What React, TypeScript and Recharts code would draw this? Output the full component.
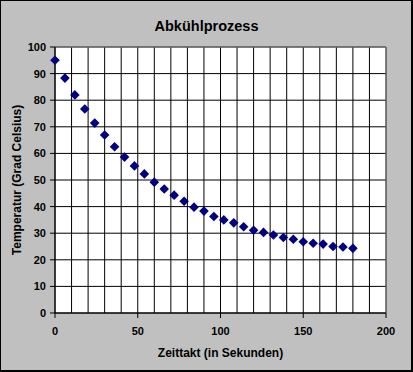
import React from "react";
import {
  ScatterChart,
  Scatter,
  XAxis,
  YAxis,
  CartesianGrid,
  ReferenceLine,
  Label,
} from "recharts";

const times = [
  0, 6, 12, 18, 24, 30, 36, 42, 48, 54, 60, 66, 72, 78, 84, 90, 96, 102, 108,
  114, 120, 126, 132, 138, 144, 150, 156, 162, 168, 174, 180,
];
const temps = [
  95.0, 88.3, 82.0, 76.7, 71.4, 66.9, 62.5, 58.6, 55.3, 52.3, 49.2, 46.6, 44.3,
  42.0, 39.8, 38.3, 36.3, 35.0, 33.9, 32.4, 31.1, 30.3, 29.3, 28.4, 27.7, 26.8,
  26.2, 25.9, 25.0, 24.8, 24.3,
];
const xLabelTicks = [0, 50, 100, 150, 200];
const xGridTicks = [
  0, 10, 20, 30, 40, 50, 60, 70, 80, 90, 100, 110, 120, 130, 140, 150, 160,
  170, 180, 190, 200,
];
const yTicks = [0, 10, 20, 30, 40, 50, 60, 70, 80, 90, 100];

const title = "Abkühlprozess";
const xTitle = "Zeittakt (in Sekunden)";
const yTitle = "Temperatur (Grad Celsius)";

const data = times.map((t, i) => ({ t, temp: temps[i] }));

const FONT = "'Liberation Sans', Arial, sans-serif";
const tickStyle = {
  fill: "#000",
  fontSize: 11,
  fontWeight: "bold" as const,
  fontFamily: FONT,
};

const X_TICK_SIZE = 5;
const X_TICK_MARGIN = 9;

const XTick = (props: any) => {
  const { x, y, payload } = props;
  const v = payload?.value;
  if (!xLabelTicks.includes(v)) return <g />;
  return (
    <g>
      <line
        x1={x}
        x2={x}
        y1={y - X_TICK_MARGIN - X_TICK_SIZE}
        y2={y - X_TICK_MARGIN}
        stroke="#000"
      />
      <text x={x} y={y} dy="0.71em" textAnchor="middle" {...tickStyle}>
        {v}
      </text>
    </g>
  );
};

const Diamond = (props: any) => {
  const { cx, cy } = props;
  const h = 4.8;
  return (
    <path
      d={`M${cx},${cy - h}L${cx + h},${cy}L${cx},${cy + h}L${cx - h},${cy}Z`}
      fill="#000080"
    />
  );
};

export default function App() {
  return (
    <div
      style={{
        position: "absolute",
        left: 0,
        top: 0,
        width: 413,
        height: 372,
        background: "#C0C0C0",
        overflow: "hidden",
      }}
    >
      <ScatterChart
        width={413}
        height={372}
        margin={{ top: 47, right: 27, bottom: 0, left: 0 }}
      >
        <CartesianGrid
          stroke="#000"
          strokeOpacity={1}
          fill="#ffffff"
          fillOpacity={1}
        />
        <XAxis
          type="number"
          dataKey="t"
          domain={[0, 200]}
          ticks={xGridTicks}
          interval={0}
          height={59}
          axisLine={{ stroke: "#000" }}
          tickLine={false}
          tickSize={X_TICK_SIZE}
          tickMargin={X_TICK_MARGIN}
          tick={XTick}
        >
          <Label
            value={xTitle}
            position="insideBottom"
            offset={15}
            style={{
              fill: "#000",
              fontSize: 12,
              fontWeight: "bold",
              fontFamily: FONT,
            }}
          />
        </XAxis>
        <YAxis
          type="number"
          dataKey="temp"
          domain={[0, 100]}
          ticks={yTicks}
          interval={0}
          width={55}
          axisLine={{ stroke: "#000" }}
          tickLine={{ stroke: "#000" }}
          tickSize={5}
          tickMargin={4}
          tick={tickStyle}
        >
          <Label
            value={yTitle}
            angle={-90}
            position="insideLeft"
            offset={17}
            style={{
              fill: "#000",
              fontSize: 12,
              fontWeight: "bold",
              fontFamily: FONT,
              textAnchor: "middle",
            }}
          />
        </YAxis>
        <ReferenceLine y={100} stroke="#808080" />
        <ReferenceLine x={200} stroke="#808080" />
        <Scatter
          data={data}
          dataKey="temp"
          shape={Diamond}
          isAnimationActive={false}
        />
      </ScatterChart>
      <svg
        width={413}
        height={372}
        style={{ position: "absolute", left: 0, top: 0, pointerEvents: "none" }}
      >
        <text
          x={206.5}
          y={31}
          textAnchor="middle"
          fontSize={14.5}
          fontWeight="bold"
          fontFamily={FONT}
          fill="#000"
        >
          {title}
        </text>
      </svg>
      <div
        style={{
          position: "absolute",
          left: 0,
          top: 0,
          width: 413,
          height: 372,
          boxSizing: "border-box",
          borderTop: "1px solid #000",
          borderLeft: "1px solid #000",
          borderRight: "2px solid #000",
          borderBottom: "2px solid #000",
          pointerEvents: "none",
        }}
      />
    </div>
  );
}
